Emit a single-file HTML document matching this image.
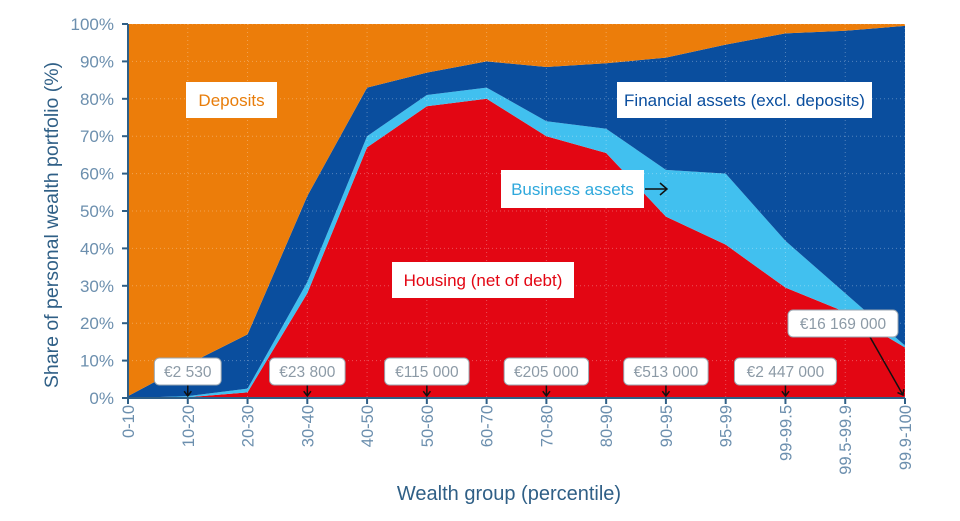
<!DOCTYPE html>
<html><head><meta charset="utf-8"><style>
body{margin:0;background:#fff;}
svg text{font-family:"Liberation Sans",sans-serif;}
</style></head><body>
<svg id="chart" width="960" height="516" viewBox="0 0 960 516" xmlns="http://www.w3.org/2000/svg">
<g id="areas"></g>
<g id="grid"></g>
<g id="axes"></g>
<g id="ann"></g>
</svg>
<script>
const categories=["0-10","10-20","20-30","30-40","40-50","50-60","60-70","70-80","80-90","90-95","95-99","99-99.5","99.5-99.9","99.9-100"];
const housing=[0,0.2,1.5,28,67,78,80,70,65.5,48.5,41,29.5,23,13.5];
const business=[0,0.3,1,3,3,3,3,4,6.5,12.5,19,12.5,5,0.5];
const financial=[0.5,8.5,14.5,23,13,6,7,14.5,17.5,30,34.5,55.5,70.2,85.5];
const deposits=[99.5,91,83,46,17,13,10,11.5,10.5,9,5.5,2.5,1.8,0.5];
const yTicks=[0,10,20,30,40,50,60,70,80,90,100];
const wealthLabels=[["€2 530",1],["€23 800",3],["€115 000",5],["€205 000",7],["€513 000",9],["€2 447 000",11]];
const NS="http://www.w3.org/2000/svg";
const X0=128,X1=905,Y0=398,Y1=24;
const xs=i=>X0+i*(X1-X0)/(categories.length-1);
const ys=v=>Y0-v*(Y0-Y1)/100;
function mk(tag,attrs,parent,txt){const e=document.createElementNS(NS,tag);for(const k in attrs)e.setAttribute(k,attrs[k]);if(txt!==undefined)e.textContent=txt;parent.appendChild(e);return e;}
const series=[["housing-area",housing,"#e30613"],["business-area",business,"#41c0ef"],["financial-area",financial,"#0a4e9e"],["deposits-area",deposits,"#ec7d0a"]];
const areas=document.getElementById('areas');
let base=categories.map(()=>0);
series.forEach(([name,vals,col])=>{
  const top=base.map((b,i)=>b+vals[i]);
  let d="M"+categories.map((c,i)=>xs(i)+","+ys(top[i])).join("L");
  for(let i=categories.length-1;i>=0;i--)d+="L"+xs(i)+","+ys(base[i]);
  const p=mk('path',{d:d+"Z",fill:col},areas);
  
  
  base=top;
});
const grid=document.getElementById('grid');
yTicks.forEach(t=>{if(t>0){const l=mk('line',{x1:X0,x2:X1,y1:ys(t),y2:ys(t),stroke:"rgba(255,255,255,0.3)","stroke-dasharray":"1,3"},grid);}});
categories.forEach((c,i)=>{if(i>0){const l=mk('line',{x1:xs(i),x2:xs(i),y1:Y1,y2:Y0,stroke:"rgba(255,255,255,0.3)","stroke-dasharray":"1,3"},grid);}});
const axes=document.getElementById('axes');
const ac="#2f5f86",tc="#6c8fae";
mk('line',{x1:X0,x2:X0,y1:Y1,y2:Y0+1,stroke:ac,"stroke-width":2},axes);
mk('line',{x1:X0-1,x2:X1,y1:Y0,y2:Y0,stroke:ac,"stroke-width":2},axes);
yTicks.forEach(t=>{
  mk('line',{x1:X0-6,x2:X0,y1:ys(t),y2:ys(t),stroke:ac,"stroke-width":2},axes);
  const tx=mk('text',{x:X0-14,y:ys(t)+6,"text-anchor":"end","font-size":17,fill:tc},axes,t+"%");
  
  
});
categories.forEach((c,i)=>{
  mk('line',{x1:xs(i),x2:xs(i),y1:Y0,y2:Y0+6,stroke:ac,"stroke-width":2},axes);
  const tx=mk('text',{x:0,y:0,"text-anchor":"end","font-size":16.5,fill:tc,transform:`translate(${xs(i)+6},${Y0+7}) rotate(-90)`},axes,c);
  
  
});
const xt=mk('text',{x:509,y:500,"text-anchor":"middle","font-size":20,fill:"#2f5f86"},axes,"Wealth group (percentile)");

const yt=mk('text',{x:0,y:0,"text-anchor":"middle","font-size":19.5,fill:"#2f5f86",transform:"translate(58,225) rotate(-90)"},axes,"Share of personal wealth portfolio (%)");

const ann=document.getElementById('ann');
function label(x,y,w,h,txt,col,name){
  const g=mk('g',{},ann);
  mk('rect',{x,y,width:w,height:h,fill:"#fff"},g);
  mk('text',{x:x+w/2,y:y+h/2+6,"text-anchor":"middle","font-size":17,fill:col},g,txt);
}
label(186,82,91,36,"Deposits","#e87d0b","deposits-label");
label(617,82,255,36,"Financial assets (excl. deposits)","#0a4e9e","financial-label");
label(501,170,143,38,"Business assets","#2fa8dc","business-label");
label(392,262,182,36,"Housing (net of debt)","#e30613","housing-label");
mk('path',{d:"M645,189H667M660,183L667,189L660,195",stroke:"#111",fill:"none","stroke-width":1.5},ann);
function wbox(cx,y,w,txt,ax,ay,tx,ty){
  const g=mk('g',{},ann);
  mk('line',{x1:tx,y1:ty,x2:ax,y2:ay,stroke:"#111","stroke-width":1.5},g);
  const ang=Math.atan2(ay-ty,ax-tx);
  const a1=ang+2.5,a2=ang-2.5;
  mk('path',{d:`M${ax+6*Math.cos(a1)},${ay+6*Math.sin(a1)}L${ax},${ay}L${ax+6*Math.cos(a2)},${ay+6*Math.sin(a2)}`,stroke:"#111",fill:"none","stroke-width":1.5},g);
  mk('rect',{x:cx-w/2,y,width:w,height:27,rx:5,fill:"#fff",stroke:"#9aa6b0","stroke-width":1},g);
  mk('text',{x:cx,y:y+19,"text-anchor":"middle","font-size":15.5,fill:"#8c9aa6"},g,txt);
}
wealthLabels.forEach(([t,i])=>{const w=t.length*8.8+14;wbox(xs(i),358,w,t,xs(i),396,xs(i),385);});
wbox(843,310,110,"€16 169 000",903,395,870,337);
</script>
</body></html>
